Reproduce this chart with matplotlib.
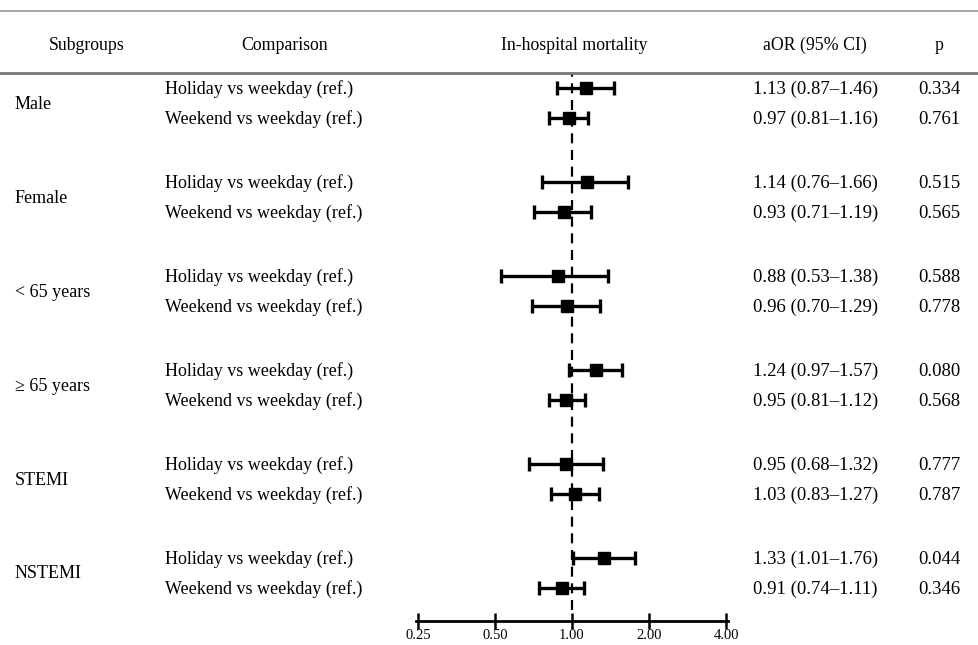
import numpy as np
import matplotlib.pyplot as plt
from matplotlib.transforms import blended_transform_factory

plt.rcParams['font.family'] = ['Liberation Serif', 'DejaVu Serif']

subgroups = ['Male', 'Female', '< 65 years', '\u2265 65 years', 'STEMI', 'NSTEMI']
comparisons = ['Holiday vs weekday (ref.)', 'Weekend vs weekday (ref.)']
aor = [1.13, 0.97, 1.14, 0.93, 0.88, 0.96, 1.24, 0.95, 0.95, 1.03, 1.33, 0.91]
lo = [0.87, 0.81, 0.76, 0.71, 0.53, 0.70, 0.97, 0.81, 0.68, 0.83, 1.01, 0.74]
hi = [1.46, 1.16, 1.66, 1.19, 1.38, 1.29, 1.57, 1.12, 1.32, 1.27, 1.76, 1.11]
pvals = ['0.334', '0.761', '0.515', '0.565', '0.588', '0.778',
         '0.080', '0.568', '0.777', '0.787', '0.044', '0.346']
xticks = [0.25, 0.5, 1.0, 2.0, 4.0]

W, H = 979, 645
fig = plt.figure(figsize=(W / 100, H / 100), dpi=100)

# forest axes placed in pixel terms
x0, x1 = 418, 726
ytop, ybot = 73, 621
ax = fig.add_axes([x0 / W, 1 - ybot / H, (x1 - x0) / W, (ybot - ytop) / H])

gap = 3.13
ys = []
for g in range(len(subgroups)):
    ys += [g * gap, g * gap + 1]
ys = np.array(ys)
aor_a, lo_a, hi_a = np.array(aor), np.array(lo), np.array(hi)

ax.errorbar(aor_a, ys, xerr=[aor_a - lo_a, hi_a - aor_a], fmt='s', color='black',
            ms=8.5, elinewidth=2.4, capsize=4.8, capthick=2.4)
ax.axvline(1.0, ymin=0.02, ymax=1, color='black', lw=1.6, ls=(0, (4.5, 3)))

ax.set_xscale('log', base=2)
ax.set_xlim(0.25, 4.0)
ax.set_ylim(-0.5 + (ybot - ytop) / 30, -0.5)
ax.set_xticks(xticks)
ax.set_xticklabels(['%.2f' % t for t in xticks], fontsize=10.5)
ax.minorticks_off()
ax.tick_params(axis='x', direction='inout', length=12, width=1.8, pad=0)
ax.set_yticks([])
for s in ['top', 'left', 'right']:
    ax.spines[s].set_visible(False)
ax.spines['bottom'].set_linewidth(2)
ax.spines['bottom'].set_bounds(0.245, 4.09)
ax.patch.set_alpha(0)

# text columns: x in figure pixels, y in row data (baseline a little below row centre)
tr = blended_transform_factory(fig.transFigure, ax.transData)
fx = lambda px: px / W
fs = 13
bl = 0.2
for g, name in enumerate(subgroups):
    ax.text(fx(15), g * gap + 0.5 + bl, name, transform=tr, fontsize=fs,
            va='baseline', ha='left')
for i, y in enumerate(ys):
    ax.text(fx(165), y + bl, comparisons[i % 2], transform=tr, fontsize=fs,
            va='baseline', ha='left')
    ax.text(fx(753), y + bl, '%.2f (%.2f\u2013%.2f)' % (aor[i], lo[i], hi[i]),
            transform=tr, fontsize=13.5, va='baseline', ha='left')
    ax.text(fx(939), y + bl, pvals[i], transform=tr, fontsize=13.5,
            va='baseline', ha='center')

# header
hy = 1 - 50 / H
for px, label in [(87, 'Subgroups'), (285, 'Comparison'), (574, 'In-hospital mortality'),
                  (815, 'aOR (95% CI)'), (939, 'p')]:
    fig.text(px / W, hy, label, fontsize=12.8, ha='center', va='baseline')

fig.add_artist(plt.Line2D([0, 1], [1 - 11 / H] * 2, color='#999999', lw=1.2))
fig.add_artist(plt.Line2D([0, 1], [1 - 73 / H] * 2, color='#777777', lw=2))

fig.savefig('out.png', dpi=100)
